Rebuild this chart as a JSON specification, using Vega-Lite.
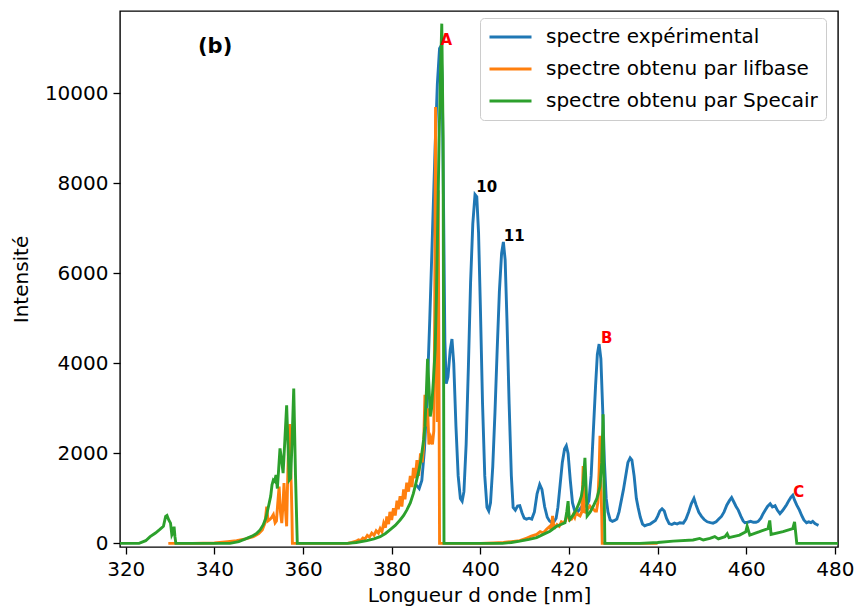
{
  "$schema": "https://vega.github.io/schema/vega-lite/v6.json",
  "autosize": "none",
  "width": 718,
  "height": 536,
  "padding": {"left": 120, "top": 11, "right": 19, "bottom": 63},
  "background": "white",
  "config": {
    "view": {"stroke": "#000", "strokeWidth": 1.4},
    "font": "DejaVu Sans",
    "axis": {
      "domain": false, "grid": false,
      "tickColor": "#000", "tickSize": 7, "tickWidth": 1.3,
      "labelFont": "DejaVu Sans", "labelFontSize": 20, "labelColor": "#000", "labelPadding": 5,
      "titleFont": "DejaVu Sans", "titleFontSize": 20, "titleFontWeight": "normal", "titleColor": "#000"
    }
  },
  "datasets": {
    "exp": [
      {"x":385.5,"y":1300},{"x":386.2,"y":1220},{"x":386.8,"y":1400},{"x":387.4,"y":2100},{"x":388.0,"y":3300},{"x":388.6,"y":5000},{"x":389.2,"y":6900},{"x":389.8,"y":8800},{"x":390.3,"y":10200},{"x":390.8,"y":11000},{"x":391.1,"y":11050},{"x":391.4,"y":10300},{"x":391.7,"y":7500},{"x":392.0,"y":4500},{"x":392.3,"y":3550},{"x":392.7,"y":3700},{"x":393.2,"y":4300},{"x":393.6,"y":4540},{"x":394.0,"y":4000},{"x":394.5,"y":2600},{"x":395.0,"y":1500},{"x":395.5,"y":1000},{"x":395.9,"y":940},{"x":396.3,"y":1150},{"x":396.8,"y":2200},{"x":397.3,"y":3900},{"x":397.8,"y":5800},{"x":398.3,"y":7100},{"x":398.8,"y":7750},{"x":399.2,"y":7700},{"x":399.6,"y":6900},{"x":400.0,"y":5300},{"x":400.5,"y":3100},{"x":401.0,"y":1500},{"x":401.5,"y":800},{"x":401.9,"y":720},{"x":402.3,"y":900},{"x":402.8,"y":1700},{"x":403.3,"y":2900},{"x":403.8,"y":4300},{"x":404.3,"y":5600},{"x":404.8,"y":6450},{"x":405.2,"y":6700},{"x":405.6,"y":6300},{"x":406.0,"y":5000},{"x":406.5,"y":3100},{"x":407.0,"y":1500},{"x":407.4,"y":800},{"x":407.9,"y":740},{"x":408.4,"y":830},{"x":408.9,"y":840},{"x":409.4,"y":680},{"x":409.9,"y":560},{"x":410.4,"y":540},{"x":411.0,"y":560},{"x":411.6,"y":540},{"x":412.2,"y":700},{"x":412.8,"y":1100},{"x":413.4,"y":1310},{"x":413.9,"y":1200},{"x":414.5,"y":820},{"x":415.1,"y":580},{"x":415.6,"y":500},{"x":416.1,"y":460},{"x":416.6,"y":480},{"x":417.1,"y":560},{"x":417.5,"y":800},{"x":418.0,"y":1300},{"x":418.5,"y":1800},{"x":419.0,"y":2100},{"x":419.4,"y":2170},{"x":419.8,"y":2000},{"x":420.3,"y":1400},{"x":420.8,"y":900},{"x":421.3,"y":720},{"x":421.7,"y":680},{"x":422.3,"y":740},{"x":422.9,"y":820},{"x":423.5,"y":820},{"x":424.0,"y":840},{"x":424.5,"y":950},{"x":425.0,"y":1500},{"x":425.5,"y":2500},{"x":426.0,"y":3500},{"x":426.4,"y":4200},{"x":426.8,"y":4430},{"x":427.2,"y":4100},{"x":427.6,"y":3000},{"x":428.0,"y":1800},{"x":428.4,"y":1000},{"x":428.8,"y":700},{"x":429.3,"y":520},{"x":429.8,"y":490},{"x":430.3,"y":510},{"x":430.8,"y":540},{"x":431.3,"y":700},{"x":431.8,"y":950},{"x":432.3,"y":1200},{"x":432.8,"y":1500},{"x":433.3,"y":1800},{"x":433.8,"y":1900},{"x":434.2,"y":1850},{"x":434.7,"y":1500},{"x":435.2,"y":1000},{"x":435.6,"y":800},{"x":436.1,"y":580},{"x":436.6,"y":430},{"x":437.1,"y":390},{"x":437.6,"y":410},{"x":438.3,"y":430},{"x":438.9,"y":470},{"x":439.5,"y":510},{"x":440.0,"y":600},{"x":440.5,"y":720},{"x":441.0,"y":770},{"x":441.5,"y":720},{"x":442.0,"y":560},{"x":442.6,"y":440},{"x":443.2,"y":420},{"x":443.8,"y":450},{"x":444.4,"y":430},{"x":445.0,"y":460},{"x":445.8,"y":450},{"x":446.4,"y":540},{"x":447.0,"y":700},{"x":447.6,"y":880},{"x":448.2,"y":1000},{"x":448.7,"y":850},{"x":449.3,"y":690},{"x":449.9,"y":600},{"x":450.5,"y":530},{"x":451.2,"y":480},{"x":451.9,"y":460},{"x":452.5,"y":450},{"x":453.2,"y":480},{"x":453.8,"y":540},{"x":454.4,"y":600},{"x":455.0,"y":700},{"x":455.6,"y":850},{"x":456.2,"y":950},{"x":456.7,"y":1020},{"x":457.2,"y":920},{"x":457.7,"y":820},{"x":458.2,"y":740},{"x":458.8,"y":600},{"x":459.3,"y":500},{"x":459.7,"y":460},{"x":460.3,"y":470},{"x":461.0,"y":490},{"x":461.6,"y":470},{"x":462.2,"y":470},{"x":462.7,"y":490},{"x":463.3,"y":560},{"x":463.8,"y":660},{"x":464.3,"y":740},{"x":464.8,"y":820},{"x":465.4,"y":880},{"x":465.9,"y":810},{"x":466.5,"y":840},{"x":467.0,"y":740},{"x":467.6,"y":660},{"x":468.2,"y":730},{"x":468.7,"y":800},{"x":469.1,"y":860},{"x":469.6,"y":950},{"x":470.1,"y":1030},{"x":470.5,"y":1070},{"x":470.9,"y":960},{"x":471.4,"y":850},{"x":472.0,"y":740},{"x":472.5,"y":620},{"x":473.0,"y":520},{"x":473.6,"y":460},{"x":474.1,"y":480},{"x":474.6,"y":460},{"x":475.0,"y":490},{"x":475.5,"y":440},{"x":475.9,"y":420},{"x":476.3,"y":400}
    ],
    "lif": [
      {"x":329.6,"y":0},{"x":335,"y":0},{"x":340,"y":10},{"x":343,"y":40},{"x":345,"y":60},{"x":347,"y":100},{"x":348.8,"y":150},{"x":350,"y":220},{"x":350.8,"y":300},{"x":351.4,"y":450},{"x":351.8,"y":815},{"x":352.1,"y":500},{"x":352.4,"y":520},{"x":352.8,"y":560},{"x":353.3,"y":640},{"x":353.7,"y":460},{"x":354.0,"y":500},{"x":354.3,"y":900},{"x":354.6,"y":1260},{"x":354.9,"y":700},{"x":355.2,"y":450},{"x":355.5,"y":900},{"x":355.7,"y":1340},{"x":356.0,"y":800},{"x":356.3,"y":380},{"x":356.5,"y":1300},{"x":356.7,"y":2080},{"x":357.0,"y":2650},{"x":357.2,"y":1700},{"x":357.35,"y":1260},{"x":357.5,"y":600},{"x":357.6,"y":0},{"x":365,"y":0},{"x":370,"y":0},{"x":371,"y":20},{"x":372,"y":50},{"x":372.5,"y":80},{"x":373,"y":60},{"x":373.5,"y":120},{"x":374,"y":100},{"x":374.5,"y":180},{"x":375,"y":140},{"x":375.5,"y":230},{"x":376,"y":180},{"x":376.5,"y":280},{"x":377,"y":230},{"x":377.4,"y":330},{"x":377.8,"y":260},{"x":378.2,"y":450},{"x":378.6,"y":350},{"x":378.9,"y":600},{"x":379.3,"y":430},{"x":379.6,"y":700},{"x":380,"y":520},{"x":380.4,"y":780},{"x":380.8,"y":620},{"x":381.2,"y":950},{"x":381.5,"y":760},{"x":381.9,"y":1050},{"x":382.3,"y":820},{"x":382.7,"y":1200},{"x":383,"y":980},{"x":383.4,"y":1350},{"x":383.8,"y":1150},{"x":384.2,"y":1500},{"x":384.6,"y":1250},{"x":384.9,"y":1680},{"x":385.3,"y":1450},{"x":385.7,"y":1850},{"x":386.1,"y":1500},{"x":386.5,"y":2000},{"x":386.9,"y":1800},{"x":387.2,"y":2150},{"x":387.5,"y":3300},{"x":387.8,"y":2600},{"x":388.1,"y":3000},{"x":388.4,"y":2200},{"x":388.8,"y":2350},{"x":389.2,"y":2200},{"x":389.5,"y":2500},{"x":389.7,"y":5000},{"x":389.9,"y":9700},{"x":390.1,"y":6000},{"x":390.3,"y":2700},{"x":390.5,"y":7850},{"x":390.7,"y":3000},{"x":390.8,"y":0},{"x":400,"y":0},{"x":403,"y":10},{"x":405.2,"y":20},{"x":407,"y":40},{"x":408.9,"y":60},{"x":410.5,"y":120},{"x":411.5,"y":160},{"x":412.7,"y":200},{"x":413.5,"y":260},{"x":414.2,"y":230},{"x":415,"y":320},{"x":415.7,"y":380},{"x":416.0,"y":300},{"x":416.3,"y":610},{"x":416.6,"y":360},{"x":416.8,"y":350},{"x":417.3,"y":420},{"x":417.8,"y":380},{"x":418.3,"y":480},{"x":418.7,"y":460},{"x":419.2,"y":500},{"x":419.5,"y":600},{"x":419.8,"y":830},{"x":420.1,"y":520},{"x":420.6,"y":540},{"x":421.0,"y":640},{"x":421.3,"y":580},{"x":421.6,"y":690},{"x":422.0,"y":640},{"x":422.5,"y":610},{"x":422.9,"y":700},{"x":423.2,"y":1720},{"x":423.5,"y":700},{"x":423.8,"y":690},{"x":424.2,"y":760},{"x":424.7,"y":830},{"x":425.1,"y":780},{"x":425.5,"y":760},{"x":425.9,"y":720},{"x":426.2,"y":720},{"x":426.5,"y":900},{"x":426.8,"y":1600},{"x":427.0,"y":2390},{"x":427.2,"y":1300},{"x":427.4,"y":600},{"x":427.5,"y":0},{"x":440,"y":0}
    ],
    "spec": [
      {"x":318.7,"y":0},{"x":323,"y":0},{"x":324.5,"y":60},{"x":325.5,"y":150},{"x":326.7,"y":230},{"x":327.7,"y":310},{"x":328.5,"y":380},{"x":329.0,"y":600},{"x":329.3,"y":620},{"x":329.7,"y":520},{"x":330.1,"y":450},{"x":330.4,"y":190},{"x":330.7,"y":250},{"x":330.9,"y":370},{"x":331.1,"y":150},{"x":331.3,"y":0},{"x":343.5,"y":0},{"x":345.5,"y":40},{"x":347.3,"y":110},{"x":348.5,"y":160},{"x":349.5,"y":220},{"x":350.3,"y":300},{"x":351.0,"y":410},{"x":351.6,"y":560},{"x":352.2,"y":820},{"x":352.7,"y":1050},{"x":353.0,"y":1300},{"x":353.3,"y":1410},{"x":353.6,"y":1380},{"x":353.9,"y":1520},{"x":354.2,"y":1220},{"x":354.5,"y":1650},{"x":354.8,"y":2110},{"x":355.1,"y":1900},{"x":355.5,"y":1560},{"x":355.9,"y":2300},{"x":356.3,"y":3070},{"x":356.6,"y":2200},{"x":356.9,"y":1410},{"x":357.2,"y":1450},{"x":357.5,"y":2200},{"x":357.9,"y":3440},{"x":358.3,"y":1500},{"x":358.7,"y":0},{"x":370,"y":0},{"x":372,"y":20},{"x":374.4,"y":60},{"x":376,"y":100},{"x":377.4,"y":150},{"x":378.6,"y":220},{"x":379.6,"y":300},{"x":380.8,"y":400},{"x":381.9,"y":520},{"x":382.7,"y":620},{"x":383.4,"y":740},{"x":384.2,"y":900},{"x":384.9,"y":1110},{"x":385.5,"y":1350},{"x":386.0,"y":1560},{"x":386.5,"y":1800},{"x":386.8,"y":2000},{"x":387.2,"y":2300},{"x":387.5,"y":2600},{"x":387.8,"y":3300},{"x":388.1,"y":4100},{"x":388.4,"y":3500},{"x":388.7,"y":2820},{"x":389.0,"y":3000},{"x":389.4,"y":3600},{"x":389.8,"y":4300},{"x":390.1,"y":5500},{"x":390.4,"y":7200},{"x":390.7,"y":9000},{"x":391.0,"y":10400},{"x":391.3,"y":11550},{"x":391.6,"y":9000},{"x":391.8,"y":0},{"x":405,"y":0},{"x":407,"y":20},{"x":408.9,"y":50},{"x":411,"y":90},{"x":412.7,"y":130},{"x":414.2,"y":200},{"x":415.7,"y":270},{"x":417.2,"y":380},{"x":418.2,"y":420},{"x":419.1,"y":460},{"x":419.5,"y":700},{"x":419.8,"y":940},{"x":420.0,"y":600},{"x":420.2,"y":530},{"x":421.0,"y":640},{"x":421.7,"y":760},{"x":422.3,"y":900},{"x":422.8,"y":1050},{"x":423.2,"y":1300},{"x":423.6,"y":1900},{"x":424.0,"y":900},{"x":424.1,"y":610},{"x":424.8,"y":700},{"x":425.5,"y":830},{"x":426.3,"y":1000},{"x":427.0,"y":1270},{"x":427.4,"y":1800},{"x":427.7,"y":2870},{"x":427.9,"y":1400},{"x":428.1,"y":0},{"x":436,"y":0},{"x":440,"y":20},{"x":443.5,"y":50},{"x":448,"y":75},{"x":449.5,"y":110},{"x":450.3,"y":75},{"x":451.8,"y":110},{"x":452.9,"y":150},{"x":453.7,"y":100},{"x":455.2,"y":150},{"x":455.7,"y":215},{"x":456.1,"y":130},{"x":458.5,"y":185},{"x":459.9,"y":260},{"x":460.2,"y":380},{"x":460.8,"y":185},{"x":463,"y":260},{"x":464.9,"y":330},{"x":465.3,"y":510},{"x":465.6,"y":200},{"x":468.3,"y":260},{"x":470.5,"y":330},{"x":470.9,"y":480},{"x":471.4,"y":0},{"x":480.7,"y":0}
    ],
    "red": [
      {"x":391.0,"y":11080,"label":"A"},
      {"x":427.2,"y":4447,"label":"B"},
      {"x":470.6,"y":1038,"label":"C"}
    ],
    "black": [
      {"x":399.1,"y":7816,"label":"10"},
      {"x":405.3,"y":6720,"label":"11"}
    ],
    "panel": [
      {"x":336.3,"y":10904,"label":"(b)"}
    ]
  },
  "encoding": {
    "x": {
      "field": "x", "type": "quantitative",
      "scale": {"domain": [318.7, 480.7], "nice": false, "zero": false},
      "axis": {"title": "Longueur d onde [nm]", "values": [320,340,360,380,400,420,440,460,480], "format": "d", "labelFlush": false, "labelOverlap": false, "titlePadding": 6}
    },
    "y": {
      "field": "y", "type": "quantitative",
      "scale": {"domain": [-80, 11831], "nice": false, "zero": false},
      "axis": {"title": "Intensité", "values": [0,2000,4000,6000,8000,10000], "format": "d", "labelOverlap": false, "titlePadding": 13}
    }
  },
  "layer": [
    {
      "data": {"name": "exp"},
      "mark": {"type": "line", "strokeWidth": 2.9, "clip": true},
      "encoding": {
        "color": {
          "datum": "spectre expérimental", "type": "nominal",
          "scale": {"domain": ["spectre expérimental", "spectre obtenu par lifbase", "spectre obtenu par Specair"], "range": ["#1f77b4", "#ff7f0e", "#2ca02c"]},
          "legend": {
            "title": null, "orient": "none", "legendX": 360, "legendY": 7,
            "direction": "vertical",
            "fillColor": "rgba(255,255,255,0.8)", "strokeColor": "#cccccc", "cornerRadius": 4,
            "padding": 8, "rowPadding": 10, "clipHeight": 22,
            "symbolType": "stroke", "symbolSize": 1764, "symbolStrokeWidth": 3,
            "labelFont": "DejaVu Sans", "labelFontSize": 20, "labelColor": "#000", "labelOffset": 13, "labelLimit": 400
          }
        }
      }
    },
    {
      "data": {"name": "lif"},
      "mark": {"type": "line", "strokeWidth": 2.9, "clip": true},
      "encoding": {"color": {"datum": "spectre obtenu par lifbase", "type": "nominal"}}
    },
    {
      "data": {"name": "spec"},
      "mark": {"type": "line", "strokeWidth": 2.9, "clip": true},
      "encoding": {"color": {"datum": "spectre obtenu par Specair", "type": "nominal"}}
    },
    {
      "data": {"name": "red"},
      "mark": {"type": "text", "align": "left", "baseline": "alphabetic", "font": "DejaVu Sans", "fontWeight": "bold", "fontSize": 15, "color": "#ff0000"},
      "encoding": {"text": {"field": "label"}}
    },
    {
      "data": {"name": "black"},
      "mark": {"type": "text", "align": "left", "baseline": "alphabetic", "font": "DejaVu Sans", "fontWeight": "bold", "fontSize": 15, "color": "#000"},
      "encoding": {"text": {"field": "label"}}
    },
    {
      "data": {"name": "panel"},
      "mark": {"type": "text", "align": "left", "baseline": "alphabetic", "font": "DejaVu Sans", "fontWeight": "bold", "fontSize": 21, "color": "#000"},
      "encoding": {"text": {"field": "label"}}
    }
  ]
}
